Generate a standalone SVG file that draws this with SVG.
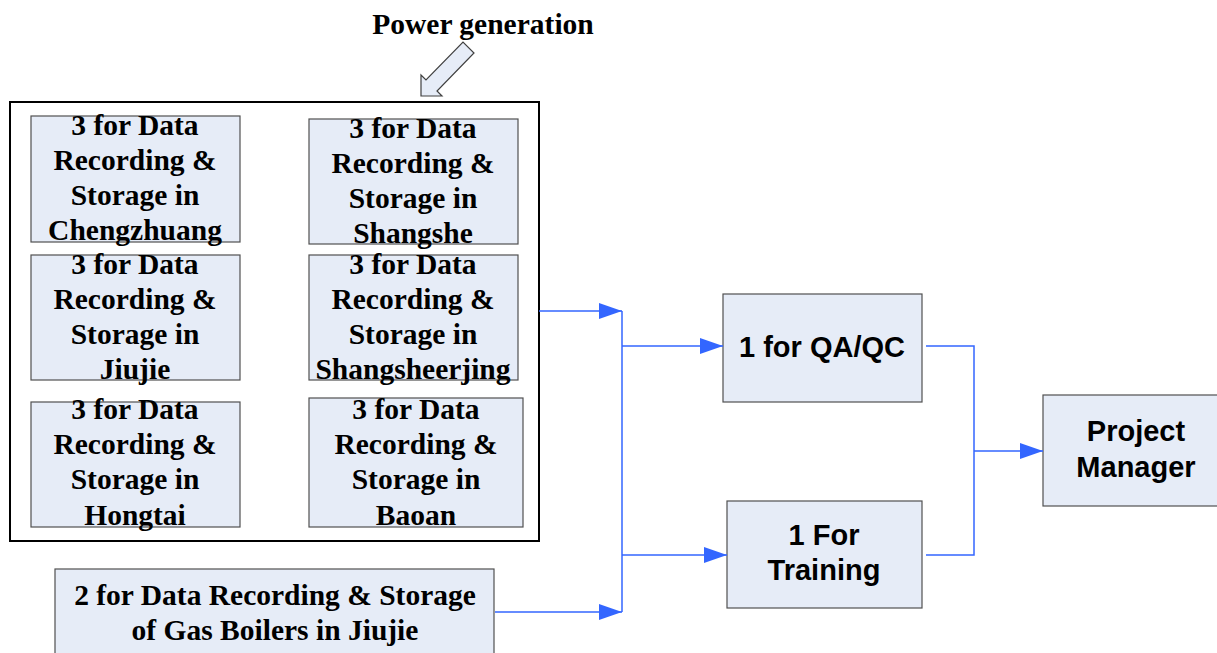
<svg xmlns="http://www.w3.org/2000/svg" width="1217" height="653" viewBox="0 0 1217 653">
  <style>
    .box { fill: #e6ecf7; stroke: #505050; stroke-width: 1.2; }
    .frame { fill: none; stroke: #000; stroke-width: 2; }
    .serif { font-family: "Liberation Serif", "Times New Roman", serif; font-weight: bold; font-size: 29.5px; fill: #000; text-anchor: middle; }
    .sans { font-family: "Liberation Sans", Arial, sans-serif; font-weight: bold; font-size: 29px; fill: #000; text-anchor: middle; }
    .link { fill: none; stroke: #3366ff; stroke-width: 1.5; }
    .link-end { fill: none; stroke: #3366ff; stroke-width: 1.5; marker-end: url(#arrow); }
  </style>
  <defs>
    <marker id="arrow" markerUnits="userSpaceOnUse" markerWidth="24" markerHeight="16" refX="23" refY="8" orient="auto">
      <path d="M0,0 L23,8 L0,16 Z" fill="#3366ff"/>
    </marker>
  </defs>

  <rect width="1217" height="653" fill="#fff"/>

  <!-- Power generation label with block arrow -->
  <g id="power-generation">
    <text class="serif" x="483" y="34">Power generation</text>
    <polygon points="421,96 421,75 426,80 463,42 474,53 437,91 442,96" fill="#e6ecf7" stroke="#404040" stroke-width="1.2"/>
  </g>

  <!-- Frame around the power generation sites -->
  <rect id="site-frame" class="frame" x="10" y="102" width="529" height="439"/>

  <g id="chengzhuang">
    <rect class="box" x="31" y="116" width="209" height="126"/>
    <text class="serif" x="135" y="135">3 for Data</text>
    <text class="serif" x="135" y="170">Recording &amp;</text>
    <text class="serif" x="135" y="205">Storage in</text>
    <text class="serif" x="135" y="240">Chengzhuang</text>
  </g>

  <g id="shangshe">
    <rect class="box" x="309" y="119" width="209" height="125"/>
    <text class="serif" x="413" y="138">3 for Data</text>
    <text class="serif" x="413" y="173">Recording &amp;</text>
    <text class="serif" x="413" y="208">Storage in</text>
    <text class="serif" x="413" y="243">Shangshe</text>
  </g>

  <g id="jiujie">
    <rect class="box" x="31" y="255" width="209" height="125"/>
    <text class="serif" x="135" y="274">3 for Data</text>
    <text class="serif" x="135" y="309">Recording &amp;</text>
    <text class="serif" x="135" y="344">Storage in</text>
    <text class="serif" x="135" y="379">Jiujie</text>
  </g>

  <g id="shangsheerjing">
    <rect class="box" x="309" y="255" width="209" height="125"/>
    <text class="serif" x="413" y="274">3 for Data</text>
    <text class="serif" x="413" y="309">Recording &amp;</text>
    <text class="serif" x="413" y="344">Storage in</text>
    <text class="serif" x="413" y="379">Shangsheerjing</text>
  </g>

  <g id="hongtai">
    <rect class="box" x="31" y="402" width="209" height="125"/>
    <text class="serif" x="135" y="419">3 for Data</text>
    <text class="serif" x="135" y="454">Recording &amp;</text>
    <text class="serif" x="135" y="489">Storage in</text>
    <text class="serif" x="135" y="525">Hongtai</text>
  </g>

  <g id="baoan">
    <rect class="box" x="309" y="398" width="214" height="129"/>
    <text class="serif" x="416" y="419">3 for Data</text>
    <text class="serif" x="416" y="454">Recording &amp;</text>
    <text class="serif" x="416" y="489">Storage in</text>
    <text class="serif" x="416" y="525">Baoan</text>
  </g>

  <g id="gas-boilers">
    <rect class="box" x="55" y="569" width="439" height="100"/>
    <text class="serif" x="275" y="605">2 for Data Recording &amp; Storage</text>
    <text class="serif" x="275" y="640">of Gas Boilers in Jiujie</text>
  </g>

  <g id="qa-qc">
    <rect class="box" x="723" y="294" width="199" height="108"/>
    <text class="sans" x="822" y="357">1 for QA/QC</text>
  </g>

  <g id="training">
    <rect class="box" x="727" y="501" width="195" height="107"/>
    <text class="sans" x="824" y="545">1 For</text>
    <text class="sans" x="824" y="580">Training</text>
  </g>

  <g id="project-manager">
    <rect class="box" x="1043" y="395" width="180" height="111"/>
    <text class="sans" x="1136" y="441">Project</text>
    <text class="sans" x="1136" y="477">Manager</text>
  </g>

  <g id="connectors">
    <path class="link-end" d="M539,311 H622"/>
    <path class="link-end" d="M495,612 H622"/>
    <path class="link" d="M622,311 V612"/>
    <path class="link-end" d="M622,346 H723"/>
    <path class="link-end" d="M622,555 H727"/>
    <path class="link" d="M926,346 H974 V555 H926"/>
    <path class="link-end" d="M974,451 H1043"/>
  </g>
</svg>
